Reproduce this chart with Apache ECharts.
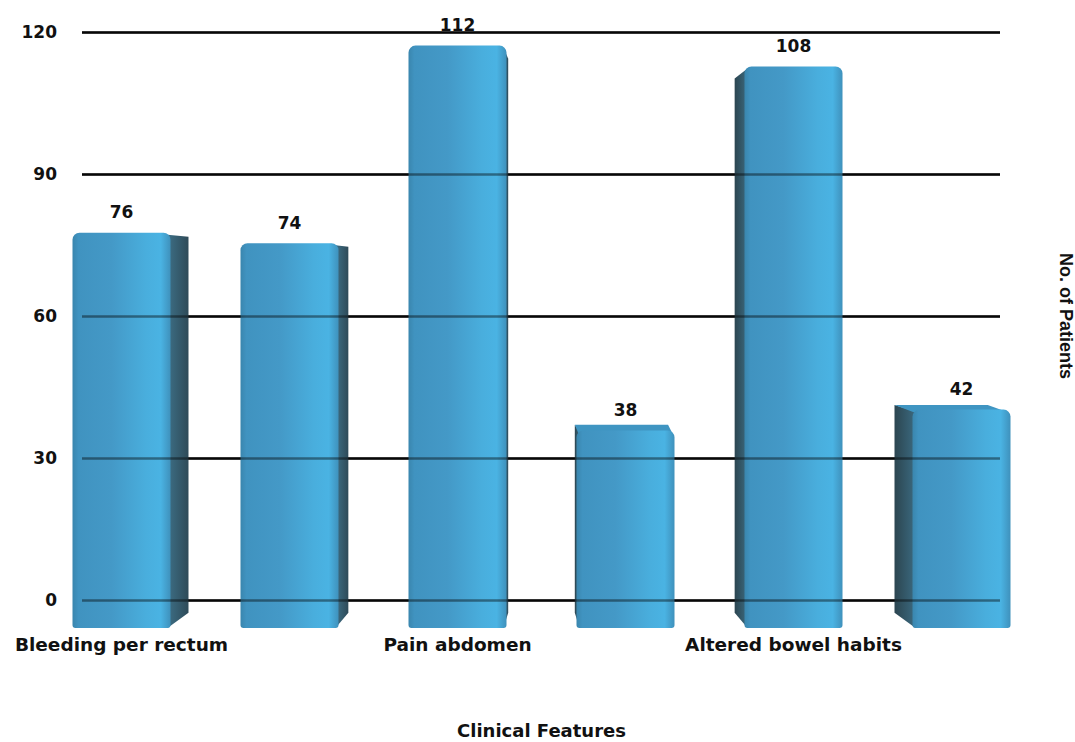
<!DOCTYPE html>
<html>
<head>
<meta charset="utf-8">
<title>Clinical Features</title>
<script src="https://cdn.jsdelivr.net/npm/echarts@6/dist/echarts.min.js"></script>
<style>
  html, body { margin: 0; padding: 0; background: #ffffff; }
  #chart { width: 1075px; height: 742px; }
</style>
</head>
<body>
<div id="chart"></div>
<script>
// Clinical features and number of patients
const categories = ['Bleeding per rectum', '', 'Pain abdomen', '', 'Altered bowel habits', ''];
const patients = [76, 74, 112, 38, 108, 42];
const yTicks = { min: 0, max: 120, interval: 30 };

const FONT = '"DejaVu Sans", "Liberation Sans", Arial, sans-serif';
const BAR_WIDTH = 98;
const DEPTH = 0.0485; // how far each box recedes toward the vanishing point

const frontFill = new echarts.graphic.LinearGradient(0, 0, 1, 0, [
  { offset: 0, color: '#3a86ae' },
  { offset: 0.06, color: '#4093c0' },
  { offset: 0.4, color: '#4499c7' },
  { offset: 0.75, color: '#49aedd' },
  { offset: 0.9, color: '#4ab3e3' },
  { offset: 1, color: '#3f91bc' }
]);

// Side and top faces of each box, projected toward the centre of the plot
function renderFaces(params, api) {
  const cs = params.coordSys;
  const vp = [cs.x + cs.width / 2, cs.y + cs.height / 2];
  const top = api.coord([api.value(0), api.value(1)]);
  const base = api.coord([api.value(0), 0]);
  const x0 = top[0] - BAR_WIDTH / 2;
  const x1 = top[0] + BAR_WIDTH / 2;
  const yT = top[1];
  const yB = base[1];
  const back = (x, y) => [x + (vp[0] - x) * DEPTH, y + (vp[1] - y) * DEPTH];
  const children = [];

  if (top[0] < vp[0]) {
    // right-hand side face
    children.push({
      type: 'polygon',
      shape: { points: [[x1 - 3, yT + 2], back(x1, yT), back(x1, yB), [x1 - 3, yB]] },
      style: {
        fill: new echarts.graphic.LinearGradient(0, 0, 1, 0, [
          { offset: 0, color: '#3d6f86' },
          { offset: 1, color: '#2e4a58' }
        ])
      }
    });
  } else {
    // left-hand side face
    children.push({
      type: 'polygon',
      shape: { points: [back(x0, yT), [x0 + 3, yT + 2], [x0 + 3, yB], back(x0, yB)] },
      style: {
        fill: new echarts.graphic.LinearGradient(0, 0, 1, 0, [
          { offset: 0, color: '#2c4550' },
          { offset: 1, color: '#3b6a80' }
        ])
      }
    });
  }
  if (yT > vp[1]) {
    // top face is visible for boxes below the horizon
    const b0 = back(x0, yT), b1 = back(x1, yT);
    children.push({
      type: 'polygon',
      shape: { points: [[x0 + 2, yT + 3], [x1 - 2, yT + 3], b1, b0] },
      style: { fill: '#3f95c2' }
    });
  }
  return { type: 'group', children: children };
}

const chart = echarts.init(document.getElementById('chart'), null, { renderer: 'svg' });

chart.setOption({
  backgroundColor: '#ffffff',
  animation: false,
  grid: [
    // back wall with the value scale
    { left: 82, right: 75, top: 32, bottom: 142, outerBoundsMode: 'none' },
    // front plane where the boxes stand
    { left: 37.5, right: 29.5, top: 4, bottom: 114, outerBoundsMode: 'none' }
  ],
  xAxis: [
    { type: 'value', gridIndex: 0, show: false, min: 0, max: 1 },
    {
      type: 'category',
      gridIndex: 1,
      data: categories,
      axisLine: { show: false },
      axisTick: { show: false },
      axisLabel: {
        interval: 0,
        margin: 7,
        color: '#111',
        fontFamily: FONT,
        fontWeight: 'bold',
        fontSize: 18.5
      },
      name: 'Clinical Features',
      nameLocation: 'middle',
      nameGap: 93,
      nameTextStyle: { color: '#111', fontFamily: FONT, fontWeight: 'bold', fontSize: 18 }
    }
  ],
  yAxis: [
    {
      type: 'value',
      gridIndex: 0,
      min: yTicks.min,
      max: yTicks.max,
      interval: yTicks.interval,
      axisLine: { show: false },
      axisTick: { show: false },
      axisLabel: {
        margin: 25,
        color: '#111',
        fontFamily: FONT,
        fontWeight: 'bold',
        fontSize: 17
      },
      splitLine: { lineStyle: { color: '#0d0d0d', width: 2.5 } }
    },
    {
      // the same rules seen through the boxes
      type: 'value',
      gridIndex: 0,
      position: 'right',
      z: 5,
      min: yTicks.min,
      max: yTicks.max,
      interval: yTicks.interval,
      axisLine: { show: false },
      axisTick: { show: false },
      axisLabel: { show: false },
      splitLine: { lineStyle: { color: 'rgba(0,0,0,0.42)', width: 2.5 } }
    },
    {
      type: 'value',
      gridIndex: 1,
      position: 'right',
      min: yTicks.min,
      max: yTicks.max,
      interval: yTicks.interval,
      axisLine: { show: false },
      axisTick: { show: false },
      axisLabel: { show: false },
      splitLine: { show: false },
      name: 'No. of Patients',
      nameLocation: 'middle',
      nameRotate: -90,
      nameGap: 11,
      nameTextStyle: {
        color: '#111',
        fontFamily: '"Liberation Sans", Arial, sans-serif',
        fontWeight: 'bold',
        fontSize: 18
      }
    }
  ],
  series: [
    {
      type: 'custom',
      xAxisIndex: 1,
      yAxisIndex: 2,
      z: 1,
      data: patients.map((v, i) => [i, v]),
      renderItem: renderFaces
    },
    {
      type: 'bar',
      xAxisIndex: 1,
      yAxisIndex: 2,
      z: 2,
      barWidth: BAR_WIDTH,
      data: patients,
      itemStyle: { color: frontFill, borderRadius: [7, 7, 3, 3] },
      label: {
        show: true,
        position: 'top',
        distance: 12,
        color: '#111',
        fontFamily: FONT,
        fontWeight: 'bold',
        fontSize: 17
      }
    }
  ]
});
</script>
</body>
</html>
